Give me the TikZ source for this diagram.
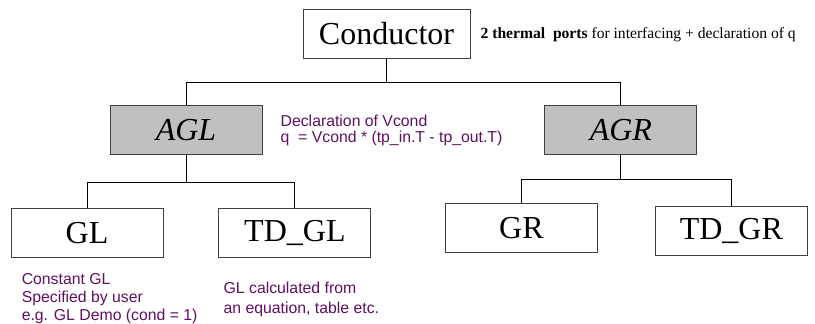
\documentclass[tikz,border=0pt]{standalone}
\usepackage{fontspec}
\setmainfont{Liberation Serif}
\newfontfamily\notefont{Liberation Sans}
\usetikzlibrary{positioning}
\definecolor{boxgray}{RGB}{192,192,192}
\definecolor{edgegray}{RGB}{64,64,64}
\definecolor{notepurple}{RGB}{96,16,96}

\begin{document}
\begin{tikzpicture}[node distance=0.6cm]
\tikzstyle{model}=[draw=edgegray,line width=0.9pt,fill=white,minimum width=152pt,minimum height=49pt,inner sep=0pt,font=\fontsize{32}{36}\selectfont]
\tikzstyle{abstract}=[model,fill=boxgray,font=\fontsize{32}{36}\selectfont\itshape]
\tikzstyle{note}=[inner sep=0pt,align=left,text=notepurple]
\tikzstyle{link}=[line width=0.9pt]
\useasboundingbox (0pt,0pt) rectangle (815pt,-324pt);
\node[model, minimum width=167pt] (cond) at (386.5pt,-33.5pt) {Conductor};
\node[right=10pt of cond, inner sep=0pt, yshift=-1.5pt, font=\fontsize{15.6}{18}\selectfont] (ports) {\textbf{2 thermal\ \ ports} for interfacing + declaration of q};
\node[abstract, below=47pt of cond, xshift=-200.5pt] (agl) {AGL};
\node[abstract, right=282pt of agl] (agr) {AGR};
\node[note, right=18pt of agl, font=\notefont\fontsize{15.8}{16}\selectfont] (vcond) {Declaration of Vcond\\q\ \ = Vcond * (tp\_in.T - tp\_out.T)};
\node[model, below=53pt of agl, xshift=-99pt] (gl) {GL};
\node[model, right=55pt of gl] (tdgl) {TD\_GL};
\node[model, below=48pt of agr, xshift=-99.5pt] (gr) {GR};
\node[model, right=57pt of gr, yshift=-3pt] (tdgr) {TD\_GR};
\node[note, below right=15pt and 11pt of gl.south west, font=\notefont\fontsize{15.8}{18}\selectfont] (glnote) {Constant GL\\Specified by user\\e.g. GL Demo (cond = 1)};
\node[note, below right=24pt and 5pt of tdgl.south west, font=\notefont\fontsize{15.8}{20}\selectfont] (tdglnote) {GL calculated from\\an equation, table etc.};
% tree connectors
\draw[link] (cond.south) -- ++(0,-24pt) coordinate (jtop);
\draw[link] (jtop) -| (agl.north);
\draw[link] (jtop) -| (agr.north);
\draw[link] (agl.south) -- ++(0,-27pt) coordinate (jgl);
\draw[link] (jgl) -| (gl.north);
\draw[link] (jgl) -| (tdgl.north);
\draw[link] (agr.south) -- ++(0,-24pt) coordinate (jgr);
\draw[link] (jgr) -| (gr.north);
\draw[link] (jgr) -| (tdgr.north);
\end{tikzpicture}
\end{document}
